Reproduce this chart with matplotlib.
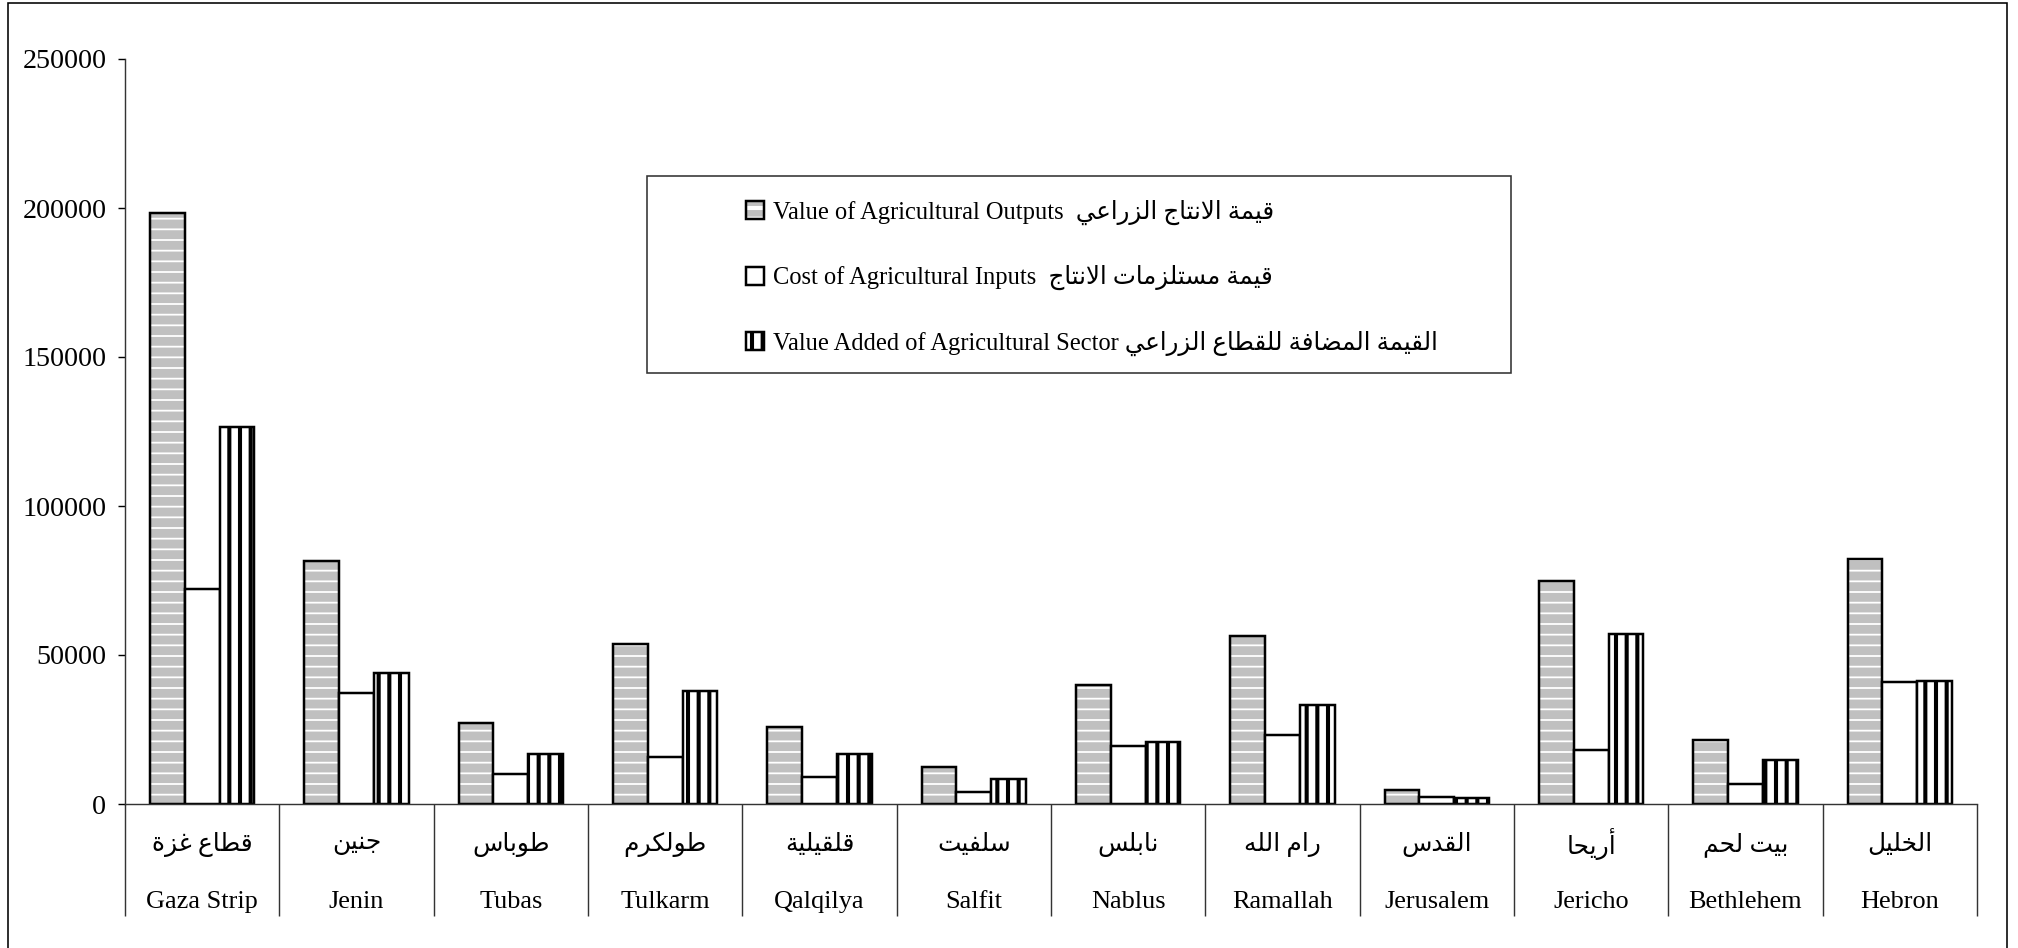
import numpy as np
import matplotlib
matplotlib.use("Agg")
import matplotlib.pyplot as plt
from matplotlib.patches import Patch, Rectangle

districts_en = ['Gaza Strip', 'Jenin', 'Tubas', 'Tulkarm', 'Qalqilya', 'Salfit',
                'Nablus', 'Ramallah', 'Jerusalem', 'Jericho', 'Bethlehem', 'Hebron']
districts_ar = ['قطاع غزة', 'جنين', 'طوباس', 'طولكرم', 'قلقيلية', 'سلفيت',
                'نابلس', 'رام الله', 'القدس', 'أريحا', 'بيت لحم', 'الخليل']
outputs = [198400, 81500, 27100, 53800, 25800, 12500, 40000, 56400, 4600, 74900, 21500, 82100]
inputs = [72000, 37400, 10200, 15800, 8900, 4000, 19300, 23200, 2500, 18000, 6700, 40900]
added = [126400, 44100, 16900, 38000, 16900, 8500, 20700, 33200, 2100, 56900, 14800, 41200]
legend_en = ['Value of Agricultural Outputs', 'Cost of Agricultural Inputs',
             'Value Added of Agricultural Sector']
legend_ar = ['قيمة الانتاج الزراعي', 'قيمة مستلزمات الانتاج', 'القيمة المضافة للقطاع الزراعي']
yticks = [0, 50000, 100000, 150000, 200000, 250000]

# matplotlib has no arabic shaping, so join letters by hand (presentation forms)
# letter -> (isolated form code, number of forms)
forms = {
    'ا': (0xFE8D, 2), 'أ': (0xFE83, 2), 'ب': (0xFE8F, 4), 'ة': (0xFE93, 2),
    'ت': (0xFE95, 4), 'ج': (0xFE9D, 4), 'ح': (0xFEA1, 4), 'خ': (0xFEA5, 4),
    'د': (0xFEA9, 2), 'ر': (0xFEAD, 2), 'ز': (0xFEAF, 2), 'س': (0xFEB1, 4),
    'ض': (0xFEBD, 4), 'ط': (0xFEC1, 4), 'ع': (0xFEC9, 4), 'غ': (0xFECD, 4),
    'ف': (0xFED1, 4), 'ق': (0xFED5, 4), 'ك': (0xFED9, 4), 'ل': (0xFEDD, 4),
    'م': (0xFEE1, 4), 'ن': (0xFEE5, 4), 'ه': (0xFEE9, 4), 'و': (0xFEED, 2),
    'ي': (0xFEF1, 4),
    'لا': (0xFEFB, 2), 'لأ': (0xFEF7, 2),
}


def shape(text):
    toks = []
    i = 0
    while i < len(text):
        if text[i] == 'ل' and i + 1 < len(text) and text[i + 1] in 'اأ':
            toks.append(text[i:i + 2])
            i += 2
        else:
            toks.append(text[i])
            i += 1
    out = []
    for k, t in enumerate(toks):
        if t not in forms:
            out.append(t)
            continue
        base, n = forms[t]
        prev = toks[k - 1] if k > 0 else None
        nxt = toks[k + 1] if k + 1 < len(toks) else None
        jp = prev in forms and forms[prev][1] == 4
        jn = n == 4 and nxt in forms
        if jp and jn:
            idx = 3
        elif jp:
            idx = 1
        elif jn:
            idx = 2
        else:
            idx = 0
        out.append(chr(base + idx))
    return ''.join(out)[::-1]


plt.rcParams['font.family'] = ['Liberation Serif', 'DejaVu Sans']
plt.rcParams['hatch.linewidth'] = 2.3

dpi = 128
fig = plt.figure(figsize=(2018 / dpi, 948 / dpi), dpi=dpi)
ax = fig.add_axes([125 / 2018, 1 - 804 / 948, (1977 - 125) / 2018, (804 - 59) / 948])

x = np.arange(len(districts_en))
w = 0.225
elw = 1.4

b1 = ax.bar(x - w, outputs, w, color='#c0c0c0', edgecolor='white', hatch='--', linewidth=0)
ax.bar(x - w, outputs, w, facecolor='none', edgecolor='black', linewidth=elw)
ax.bar(x, inputs, w, facecolor='white', edgecolor='black', linewidth=elw)
b3 = ax.bar(x + w, added, w, facecolor='white', edgecolor='black', hatch='||', linewidth=elw)
for p in b1:
    if hasattr(p, 'set_hatch_linewidth'):
        p.set_hatch_linewidth(1.0)
for p in b3:
    if hasattr(p, 'set_hatch_linewidth'):
        p.set_hatch_linewidth(2.3)

ax.set_xlim(-0.5, len(x) - 0.5)
ax.set_ylim(0, 250000)
ax.set_yticks(yticks)
ax.tick_params(axis='y', direction='out', length=4, width=0.8, pad=6.5,
               labelsize=15.75, colors='black')
ax.set_xticks(x, labels=[''] * len(x))
ax.set_xticks(np.arange(len(x) + 1) - 0.5, minor=True)
ax.tick_params(axis='x', which='major', length=0)
ax.tick_params(axis='x', which='minor', length=63, width=0.8, color='#333333')
for s in ['top', 'right']:
    ax.spines[s].set_visible(False)
for s in ['left', 'bottom']:
    ax.spines[s].set_color('#333333')
    ax.spines[s].set_linewidth(0.8)

tr = ax.get_xaxis_transform()
for i in range(len(x)):
    ax.text(x[i], -0.054, shape(districts_ar[i]), transform=tr, ha='center', va='center',
            fontsize=14)
    ax.text(x[i], -0.139, districts_en[i], transform=tr, ha='center', va='baseline',
            fontsize=14.8)

handles = [
    (Patch(facecolor='#c0c0c0', edgecolor='white', hatch='--', linewidth=0),
     Patch(facecolor='none', edgecolor='black', linewidth=elw)),
    Patch(facecolor='white', edgecolor='black', linewidth=elw),
    Patch(facecolor='white', edgecolor='black', hatch='||', linewidth=elw),
]
labels = [legend_en[0] + '  ' + shape(legend_ar[0]),
          legend_en[1] + '  ' + shape(legend_ar[1]),
          legend_en[2] + ' ' + shape(legend_ar[2])]
ax.legend(handles, labels, loc='upper left', bbox_to_anchor=(746 / 2018, 1 - 200 / 948),
          bbox_transform=fig.transFigure, frameon=False, borderpad=0, borderaxespad=0,
          handlelength=0.75, handleheight=0.75, handletextpad=0.35, labelspacing=1.63,
          fontsize=13.8)

# legend box and outer chart border
fig.add_artist(Rectangle((647 / 2018, 1 - 373 / 948), (1511 - 647) / 2018, (373 - 176) / 948,
                         transform=fig.transFigure, facecolor='none', edgecolor='#333333',
                         linewidth=0.9))
fig.add_artist(Rectangle((8 / 2018, -0.02), (2007 - 8) / 2018, 1.02 - 3 / 948,
                         transform=fig.transFigure, facecolor='none', edgecolor='black',
                         linewidth=0.9))

fig.savefig('out.png', dpi=dpi)
